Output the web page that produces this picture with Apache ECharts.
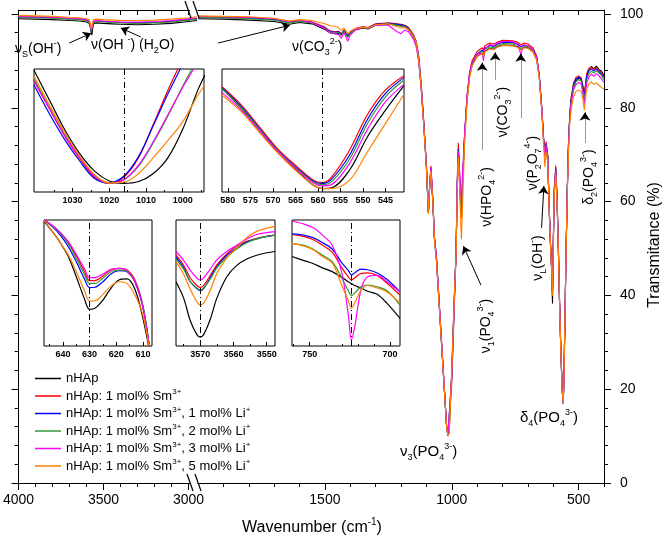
<!DOCTYPE html>
<html>
<head>
<meta charset="utf-8">
<script src="https://cdn.jsdelivr.net/npm/echarts@6/dist/echarts.min.js"></script>
<style>
    html, body { margin: 0; padding: 0; background: #fff; }
    #chart { width: 669px; height: 549px; }
</style>
</head>
<body>
<div id="chart"></div>
<script>
// series names / colours (legend order)
const names = [
    'nHAp',
    'nHAp: 1 mol% Sm3+',
    'nHAp: 1 mol% Sm3+, 1 mol% Li+',
    'nHAp: 1 mol% Sm3+, 2 mol% Li+',
    'nHAp: 1 mol% Sm3+, 3 mol% Li+',
    'nHAp: 1 mol% Sm3+, 5 mol% Li+'
];
const colors = ['#000000', '#ff0000', '#0000ff', '#339933', '#ff00ff', '#ff8000'];

// tick values
const tickMajorLeft = [4000, 3500, 3000];
const tickMinorLeft = [3900, 3800, 3700, 3600, 3400, 3300, 3200, 3100];
const tickTopLeft = [4000, 3900, 3800, 3700, 3600, 3500, 3400, 3300, 3200, 3100, 3000];
const tickMajorRight = [1500, 1000, 500];
const tickMinorRight = [1900, 1800, 1700, 1600, 1400, 1300, 1200, 1100, 900, 800, 700, 600, 400];
const tickTopRight = [1900, 1800, 1700, 1600, 1500, 1400, 1300, 1200, 1100, 1000, 900, 800, 700, 600, 500, 400];
const tickMajorY = [0, 20, 40, 60, 80, 100];
const tickMinorY = [4, 8, 12, 16, 24, 28, 32, 36, 44, 48, 52, 56, 64, 68, 72, 76, 84, 88, 92, 96];

// main spectrum, 4000-2950 cm-1
const wnLeft = [4000, 3900, 3800, 3700, 3640, 3600, 3585, 3578, 3572, 3569, 3566, 3560, 3540, 3500, 3450, 3400, 3300, 3200, 3100, 3000, 2950];
const leftHAp = [99.0, 98.9, 98.8, 98.6, 98.5, 98.3, 98.0, 97.2, 96.0, 95.5, 96.3, 97.9, 98.1, 98.0, 97.9, 97.8, 97.7, 97.8, 98.0, 98.4, 98.6];
const leftSm = [99.4, 99.3, 99.2, 99.0, 98.9, 98.7, 98.4, 97.6, 96.3, 95.9, 96.7, 98.3, 98.5, 98.4, 98.3, 98.2, 98.1, 98.2, 98.4, 98.8, 99.0];
const leftLi1 = [99.4, 99.3, 99.2, 99.0, 98.9, 98.7, 98.4, 97.6, 96.4, 96.0, 96.8, 98.3, 98.5, 98.4, 98.3, 98.2, 98.1, 98.2, 98.4, 98.8, 99.0];
const leftLi2 = [99.3, 99.2, 99.1, 98.9, 98.8, 98.6, 98.3, 97.5, 96.3, 95.9, 96.7, 98.2, 98.4, 98.3, 98.2, 98.1, 98.0, 98.1, 98.3, 98.7, 98.9];
const leftLi3 = [99.5, 99.4, 99.3, 99.1, 99.0, 98.8, 98.5, 97.8, 96.6, 96.2, 97.0, 98.5, 98.6, 98.5, 98.4, 98.3, 98.3, 98.4, 98.6, 99.0, 99.2];
const leftLi5 = [99.7, 99.6, 99.5, 99.3, 99.2, 99.0, 98.8, 98.1, 96.9, 96.5, 97.3, 98.8, 98.9, 98.8, 98.7, 98.6, 98.6, 98.7, 98.9, 99.2, 99.4];

// main spectrum, 2000-400 cm-1
const wnRight = [
    2000, 1900, 1800, 1700, 1640, 1600, 1550, 1500, 1480, 1460,
    1445, 1435, 1425, 1418, 1410, 1400, 1380, 1350, 1330, 1300,
    1250, 1215, 1200, 1185, 1170, 1150, 1140, 1130, 1120, 1110,
    1100, 1092, 1087, 1082, 1075, 1068, 1060, 1040, 1030, 1020,
    1015, 1010, 1000, 990, 983, 978, 974, 970, 965, 962,
    958, 950, 940, 930, 920, 900, 880, 875, 870, 850,
    835, 820, 800, 760, 740, 728, 715, 700, 680, 665,
    655, 645, 638, 633, 628, 622, 615, 610, 606, 603,
    600, 596, 590, 585, 580, 575, 570, 565, 561, 558,
    555, 550, 545, 540, 535, 530, 520, 510, 500, 490,
    482, 478, 474, 468, 460, 450, 440, 430, 420, 410, 400
];
const rightHAp = [
    99.0, 98.9, 98.7, 98.4, 97.8, 98.2, 97.9, 96.7, 96.0, 95.8,
    95.9, 95.5, 96.3, 95.9, 95.2, 95.8, 96.6, 97.0, 96.8, 97.6,
    97.8, 97.6, 97.5, 97.3, 96.7, 95.0, 93.6, 90.0, 83.8, 76.0,
    67.4, 57.5, 63.0, 66.5, 60.3, 51.8, 47.2, 29.4, 20.5, 11.8,
    10.2, 10.8, 24.0, 39.8, 49.0, 63.0, 70.0, 66.0, 58.9, 56.8,
    63.2, 73.1, 81.7, 86.7, 89.1, 91.0, 91.6, 91.0, 92.0, 92.7,
    92.5, 93.0, 93.4, 93.3, 93.0, 92.4, 92.9, 92.8, 92.0, 90.3,
    86.5, 79.5, 73.1, 70.3, 72.0, 69.6, 56.8, 49.5, 45.0, 38.3,
    50.0, 62.0, 66.0, 60.0, 50.0, 38.0, 28.0, 20.0, 17.0, 22.0,
    32.0, 48.0, 62.0, 72.0, 78.0, 81.3, 84.5, 85.8, 86.3, 86.1,
    84.0, 82.4, 84.0, 86.8, 88.2, 88.8, 88.3, 88.9, 88.2, 87.8, 87.0
];
const rightSm = [
    99.4, 99.3, 99.2, 98.9, 98.3, 98.6, 98.3, 97.2, 96.4, 96.2,
    96.3, 95.8, 96.6, 96.2, 95.5, 96.1, 96.9, 97.3, 97.1, 97.9,
    98.1, 97.9, 97.8, 97.6, 97.1, 95.5, 94.2, 91.0, 85.0, 77.0,
    68.0, 57.8, 63.8, 67.6, 61.0, 52.5, 48.0, 30.0, 21.0, 12.0,
    10.0, 9.8, 21.0, 37.5, 49.5, 65.5, 72.5, 67.5, 60.0, 57.5,
    63.0, 73.5, 82.5, 87.5, 90.0, 92.0, 92.8, 92.3, 93.2, 93.8,
    93.6, 94.0, 94.4, 94.3, 94.0, 93.4, 93.8, 93.6, 92.8, 91.0,
    87.0, 80.0, 73.5, 71.0, 72.8, 70.0, 57.5, 50.0, 46.0, 41.0,
    51.0, 63.0, 67.7, 61.0, 51.0, 38.5, 28.5, 20.5, 17.0, 21.0,
    31.0, 47.0, 61.5, 72.0, 78.5, 82.0, 85.3, 86.5, 86.8, 86.4,
    84.5, 83.0, 84.5, 87.3, 88.4, 88.6, 88.2, 88.6, 88.0, 87.5, 86.8
];
const rightLi1 = [
    99.3, 99.2, 99.1, 98.8, 98.2, 98.5, 98.2, 97.0, 96.3, 96.1,
    96.2, 95.6, 96.5, 96.0, 95.2, 96.0, 96.8, 97.2, 97.0, 97.8,
    98.0, 97.8, 97.7, 97.5, 96.9, 95.3, 94.0, 90.6, 84.5, 76.5,
    67.8, 57.6, 63.5, 67.2, 60.6, 52.2, 47.8, 29.8, 20.8, 11.9,
    10.1, 10.2, 22.5, 38.5, 49.2, 64.5, 71.2, 67.0, 59.6, 57.0,
    63.5, 73.3, 82.0, 87.0, 89.6, 91.5, 92.3, 91.8, 92.7, 93.3,
    93.1, 93.6, 94.0, 93.9, 93.6, 93.0, 93.4, 93.2, 92.4, 90.7,
    86.8, 79.8, 73.3, 70.0, 72.2, 69.8, 57.2, 49.8, 45.5, 40.5,
    50.5, 62.5, 67.0, 60.5, 50.5, 38.2, 28.2, 20.2, 17.0, 21.5,
    31.5, 47.5, 61.8, 72.0, 78.2, 81.6, 85.0, 86.2, 86.5, 86.2,
    84.0, 82.5, 84.0, 86.8, 87.8, 88.3, 87.8, 88.3, 87.7, 87.2, 86.5
];
const rightLi2 = [
    99.3, 99.2, 99.0, 98.7, 98.1, 98.4, 98.1, 96.9, 96.2, 96.0,
    96.0, 95.4, 96.4, 95.8, 95.0, 95.9, 96.7, 97.1, 96.9, 97.7,
    97.9, 97.6, 97.4, 97.3, 96.8, 95.2, 93.9, 90.4, 84.2, 76.3,
    67.6, 57.6, 63.4, 67.0, 60.5, 52.1, 47.6, 29.7, 20.7, 11.9,
    10.1, 10.3, 23.0, 39.0, 49.0, 64.0, 70.8, 66.8, 59.4, 56.5,
    63.3, 73.2, 81.9, 86.9, 89.4, 91.3, 92.0, 91.5, 92.4, 93.0,
    92.8, 93.3, 93.7, 93.6, 93.3, 92.6, 93.1, 93.0, 92.2, 90.5,
    86.6, 79.6, 73.2, 69.8, 72.1, 69.7, 57.0, 49.7, 45.3, 40.0,
    50.3, 62.3, 66.8, 60.3, 50.3, 38.1, 28.1, 20.1, 17.0, 21.7,
    31.7, 47.7, 61.8, 71.8, 77.9, 81.0, 84.5, 85.6, 86.0, 85.7,
    83.3, 81.5, 83.3, 86.0, 87.2, 87.8, 87.4, 87.9, 87.4, 86.9, 86.0
];
const rightLi3 = [
    99.5, 99.4, 99.3, 99.0, 98.4, 98.7, 98.2, 96.9, 96.0, 95.8,
    95.6, 94.8, 96.0, 95.2, 94.2, 95.5, 96.6, 97.2, 97.0, 97.6,
    97.6, 96.2, 95.8, 96.6, 96.2, 94.5, 93.0, 89.8, 84.0, 76.2,
    67.6, 57.8, 63.5, 67.2, 60.8, 52.3, 47.9, 29.9, 20.9, 12.0,
    10.2, 10.4, 22.8, 38.6, 49.2, 64.5, 70.5, 67.5, 62.0, 60.0,
    65.0, 74.0, 82.3, 87.2, 89.6, 91.5, 91.6, 90.0, 92.5, 93.5,
    93.3, 93.8, 94.2, 94.1, 93.6, 91.4, 93.4, 93.2, 92.4, 90.6,
    86.6, 79.6, 73.1, 69.6, 71.8, 69.4, 57.0, 49.7, 45.4, 40.5,
    50.4, 62.3, 66.5, 60.2, 50.2, 38.1, 28.1, 20.1, 17.0, 21.6,
    31.6, 47.5, 61.5, 71.5, 77.5, 80.6, 83.8, 85.0, 85.4, 85.1,
    82.8, 80.8, 82.5, 85.3, 86.5, 87.2, 86.7, 87.3, 86.8, 86.2, 85.4
];
const rightLi5 = [
    99.6, 99.5, 99.4, 99.1, 98.5, 98.8, 98.6, 97.9, 97.5, 97.4,
    97.0, 96.5, 97.0, 96.5, 95.8, 96.3, 96.9, 97.2, 97.0, 97.7,
    97.9, 97.3, 97.0, 97.1, 96.6, 95.2, 93.8, 90.3, 84.0, 76.0,
    67.2, 57.4, 63.0, 66.5, 60.2, 51.8, 47.1, 29.4, 20.5, 11.7,
    10.1, 10.6, 23.5, 39.3, 48.8, 62.5, 69.5, 65.0, 56.0, 52.0,
    58.0, 71.5, 81.0, 86.3, 88.9, 90.9, 91.6, 90.9, 91.9, 92.6,
    92.4, 92.9, 93.3, 93.2, 92.9, 92.3, 92.8, 92.7, 91.9, 90.1,
    86.2, 79.0, 72.0, 67.4, 70.5, 68.5, 56.5, 49.4, 45.0, 40.0,
    50.0, 61.8, 65.8, 59.8, 49.8, 37.8, 27.8, 19.8, 17.0, 21.8,
    31.8, 47.5, 61.0, 70.5, 76.5, 79.5, 82.5, 83.5, 83.8, 83.5,
    81.5, 79.5, 81.5, 84.0, 85.0, 85.5, 85.0, 85.3, 84.8, 84.3, 84.0
];

// inset 1: 1040-994 cm-1 (relative units)
const in1Wn = [1040.5, 1036, 1032, 1028, 1024, 1020, 1016, 1012, 1008, 1004, 1000, 996, 994];
const in1HAp = [99, 73, 50, 31, 17, 9, 7, 8.5, 15, 28, 51, 82, 95];
const in1Sm = [91, 66, 45, 27, 12, 7, 12, 28, 55, 83, 108, 130, 140];
const in1Li1 = [87, 62, 42, 25, 11, 7.5, 13, 29, 54, 80, 104, 128, 138];
const in1Li2 = [92, 67, 46, 28, 13, 7, 10, 21, 40, 62, 86, 108, 118];
const in1Li3 = [90, 66, 45, 28, 13, 7.5, 10, 22, 41, 63, 85, 105, 115];
const in1Li5 = [94, 69, 48, 29, 14, 7.5, 8, 15, 28, 42, 57, 78, 87];

// inset 2: 581-541 cm-1
const in2Wn = [581.3, 577, 573, 569, 565, 561, 559, 557, 553, 549, 545, 540.9];
const in2HAp = [84.2, 68, 50.3, 32.6, 18.5, 5.5, 2.8, 3.3, 17.7, 44.9, 66.6, 86.5];
const in2Sm = [85.6, 70.7, 53, 35.3, 21.7, 9.5, 7.6, 12, 34, 63, 83, 94.6];
const in2Li1 = [84.8, 69.3, 51.7, 34, 20.4, 8.7, 6.8, 10.3, 29.9, 59.2, 80.2, 93];
const in2Li2 = [84.2, 68.5, 51.1, 33.7, 19.9, 8.2, 6, 8.2, 26.6, 55.7, 77.4, 91];
const in2Li3 = [81, 66.6, 50, 33.2, 19.1, 7.4, 5, 6, 23.1, 51, 73.4, 87.5];
const in2Li5 = [78.8, 65.2, 48.4, 32.1, 17.7, 5.5, 2.8, 2.8, 9.6, 32.7, 55.8, 79.5];

// inset 3: 647-607 cm-1
const in3Wn = [647, 644, 641, 638, 635, 632, 630, 628, 625, 622, 619, 616, 613, 610, 607];
const in3HAp = [98.7, 90.9, 82, 71, 55, 37.8, 29.1, 29.9, 36.5, 45.8, 52.4, 53.2, 45, 22, -10];
const in3Sm = [100, 95.5, 89.9, 82, 71.4, 59.5, 51.9, 51.9, 55.6, 60.3, 61.6, 60.3, 52.4, 31.8, -10];
const in3Li1 = [100, 94.7, 88, 78.8, 66.9, 53.6, 46.3, 46.6, 51, 57.1, 59.8, 59, 51, 31.3, -10];
const in3Li2 = [100, 95.2, 89.4, 81, 69.6, 57.1, 49.7, 49.7, 53.7, 59, 60.3, 59, 51, 31.3, -10];
const in3Li3 = [100, 95.8, 90.2, 82.8, 72.8, 61.6, 54.3, 54.3, 57.1, 60.8, 61.6, 59.8, 51, 30, -10];
const in3Li5 = [99.5, 90.9, 82, 72.3, 59, 44.4, 35.7, 35.9, 41, 47.6, 51, 49.7, 40.5, 24.5, -10];

// inset 4: 3577-3547 cm-1
const in4Wn = [3577.3, 3575, 3573, 3571, 3570, 3569, 3567, 3565, 3562, 3559, 3556, 3553, 3550, 3547.5];
const in4HAp = [51, 38, 20, 9, 7, 9, 21, 38, 55, 64, 69, 72, 74, 75];
const in4Sm = [72.3, 64, 54, 48, 46.5, 48, 56, 64.3, 73, 79.5, 83, 85.5, 87, 88];
const in4Li1 = [70.5, 62, 51, 45.5, 43.9, 45.5, 54, 63, 72, 78, 82.5, 85, 87, 88];
const in4Li2 = [69, 61, 51, 46, 44.4, 46, 53, 62, 70.5, 77, 82, 85, 87, 88];
const in4Li3 = [75, 68, 60, 54, 52.4, 54, 61, 68.3, 75, 80, 85, 88.5, 90, 90.7];
const in4Li5 = [67, 57, 45, 35, 32.5, 34, 44, 57.7, 70, 78, 86, 91, 93.5, 95];

// inset 5: 761-694 cm-1
const in5Wn = [761, 754, 748, 742, 736, 730, 726, 724, 722, 718, 714, 708, 702, 693.8];
const in5HAp = [71, 68, 65.5, 62, 59, 54.5, 51, 49.5, 48, 46, 43.5, 41, 34, 22];
const in5Sm = [88.5, 87, 84.5, 80, 74.5, 62, 55, 52.4, 54, 57.7, 58, 56, 50, 40.5];
const in5Li1 = [89, 88, 86, 82, 77, 66, 60, 56.5, 58, 61, 60.5, 58, 53, 43];
const in5Li2 = [81.5, 80, 77, 72, 67, 54, 44, 40, 42, 47, 48.4, 47, 44, 32.5];
const in5Li3 = [99, 97, 94, 88, 80, 58, 25, 5, 15, 45, 55, 56, 51, 43];
const in5Li5 = [81.5, 79.5, 76.5, 71, 66, 48, 36, 30, 34, 44.4, 48, 46, 43, 34];

const FONT = '"Liberation Sans", Arial, sans-serif';
const plain = v => String(v);

// 轴构造
function xAxisOf(grid, min, max, ticks, len, inside, pos, showLine, labels, fontSize, bold) {
    return {
        gridIndex: grid, type: 'value', min: min, max: max, inverse: true, position: pos,
        splitLine: { show: false },
        axisLine: { show: showLine, onZero: false, lineStyle: { color: '#000', width: 1 } },
        axisTick: { show: true, customValues: ticks, length: len, inside: inside, lineStyle: { color: '#000', width: 1 } },
        axisLabel: labels ? {
            show: true, customValues: labels, formatter: plain, color: '#000', fontSize: fontSize, fontFamily: FONT,
            fontWeight: bold ? 'bold' : 'normal', margin: bold ? 4 : 10
        } : { show: false }
    };
}
function yAxisOf(grid, ticks, len, pos, showLine, labels) {
    return {
        gridIndex: grid, type: 'value', min: 0, max: 100.85, position: pos,
        splitLine: { show: false },
        axisLine: { show: showLine, onZero: false, lineStyle: { color: '#000', width: 1 } },
        axisTick: { show: true, customValues: ticks, length: len, inside: false, lineStyle: { color: '#000', width: 1 } },
        axisLabel: labels ? { show: true, customValues: labels, formatter: plain, color: '#000', fontSize: 14, fontFamily: FONT, margin: 16 } : { show: false }
    };
}

const insets = [
    { left: 34, top: 69, width: 170, height: 123, min: 994.2, max: 1040.5, labels: [1030, 1020, 1010, 1000], minor: [1035, 1025, 1015, 1005, 995], mark: 1016,
      wn: in1Wn, sets: [in1HAp, in1Sm, in1Li1, in1Li2, in1Li3, in1Li5] },
    { left: 222, top: 69, width: 182, height: 123, min: 540.9, max: 581.3, labels: [580, 575, 570, 565, 560, 555, 550, 545], minor: null, mark: 559,
      wn: in2Wn, sets: [in2HAp, in2Sm, in2Li1, in2Li2, in2Li3, in2Li5] },
    { left: 44, top: 220, width: 108, height: 126, min: 606.6, max: 647.1, labels: [640, 630, 620, 610], minor: [645, 635, 625, 615], mark: 630,
      wn: in3Wn, sets: [in3HAp, in3Sm, in3Li1, in3Li2, in3Li3, in3Li5] },
    { left: 176, top: 220, width: 99, height: 126, min: 3547.5, max: 3577.3, labels: [3570, 3560, 3550], minor: [3575, 3565, 3555], mark: 3570,
      wn: in4Wn, sets: [in4HAp, in4Sm, in4Li1, in4Li2, in4Li3, in4Li5] },
    { left: 292, top: 220, width: 108, height: 126, min: 693.8, max: 761, labels: [750, 700], minor: [760, 740, 730, 720, 710], mark: 724,
      wn: in5Wn, sets: [in5HAp, in5Sm, in5Li1, in5Li2, in5Li3, in5Li5] }
];

const grid = [
    { left: 17, top: 10, width: 180, height: 473, show: false },
    { left: 198, top: 10, width: 406, height: 473, show: false }
];
const xAxis = [
    xAxisOf(0, 2950, 4000, tickMajorLeft, 7, false, 'bottom', true, tickMajorLeft, 14, false),
    xAxisOf(0, 2950, 4000, tickMinorLeft, 4, false, 'bottom', false, null),
    xAxisOf(0, 2950, 4000, tickTopLeft, 5, true, 'top', true, null),
    xAxisOf(1, 400, 2000, tickMajorRight, 7, false, 'bottom', true, tickMajorRight, 14, false),
    xAxisOf(1, 400, 2000, tickMinorRight, 4, false, 'bottom', false, null),
    xAxisOf(1, 400, 2000, tickTopRight, 5, true, 'top', true, null)
];
const yAxis = [
    yAxisOf(0, tickMajorY, 7, 'left', true, null),
    yAxisOf(0, tickMinorY, 4, 'left', false, null),
    yAxisOf(1, tickMajorY, 7, 'right', true, tickMajorY),
    yAxisOf(1, tickMinorY, 4, 'right', false, null)
];

// 标注箭头 (data coords): 起点, 终点, 颜色
const arrowsLeft = [
    [3702, 93.8, 3573, 95.9, '#000'],
    [3281, 95.1, 3398, 97.0, '#000']
];
const arrowsRight = [
    [1921, 93.8, 1638, 97.6, '#000'],
    [885, 42.2, 954, 50.5, '#000'],
    [646, 54.4, 637, 63.3, '#000'],
    [880, 71.0, 880, 89.6, '#999'],
    [829, 85.9, 829, 91.8, '#999'],
    [728, 77.8, 728, 91.5, '#999'],
    [475, 72.5, 475, 79.0, '#999']
];
function arrowMark(list) {
    const data = [];
    list.forEach(a => {
        data.push([{ coord: [a[0], a[1]], lineStyle: { color: a[4] } }, { coord: [a[2], a[3]] }]);
        if (a[4] !== '#000') {
            // 灰线配黑色箭头
            data.push([{ coord: [a[2], a[3] - 1.2], lineStyle: { color: '#000' } }, { coord: [a[2], a[3]] }]);
        }
    });
    return {
        silent: true, animation: false, symbol: ['none', 'arrow'], symbolSize: 8,
        label: { show: false },
        lineStyle: { type: 'solid', width: 1 },
        emphasis: { disabled: true },
        data: data
    };
}

const series = [];
function addPanel(xi, yi, wn, sets, width, smooth, markLine) {
    sets.forEach((vals, k) => {
        series.push({
            type: 'line', name: names[k], xAxisIndex: xi, yAxisIndex: yi,
            data: wn.map((w, i) => [w, vals[i]]),
            symbol: 'none', showSymbol: false, smooth: smooth, clip: true, silent: true, animation: false,
            lineStyle: { color: colors[k], width: width },
            itemStyle: { color: colors[k] },
            markLine: k === 0 && markLine ? markLine : undefined
        });
    });
}
addPanel(0, 0, wnLeft, [leftHAp, leftSm, leftLi1, leftLi2, leftLi3, leftLi5], 1.1, false, arrowMark(arrowsLeft));
addPanel(3, 2, wnRight, [rightHAp, rightSm, rightLi1, rightLi2, rightLi3, rightLi5], 1.1, false, arrowMark(arrowsRight));

insets.forEach(p => {
    const gi = grid.length;
    grid.push({ left: p.left, top: p.top, width: p.width, height: p.height, show: true,
        borderColor: '#000', borderWidth: 1, backgroundColor: '#fff' });
    const xi = xAxis.length;
    xAxis.push(xAxisOf(gi, p.min, p.max, p.labels, 4, true, 'bottom', false, p.labels, 9, true));
    const minorAx = xAxisOf(gi, p.min, p.max, p.minor || [p.min], 2, true, 'bottom', false, null);
    if (!p.minor) minorAx.axisTick.show = false;
    xAxis.push(minorAx);
    const yi = yAxis.length;
    yAxis.push({ gridIndex: gi, type: 'value', min: 0, max: 100, show: false });
    addPanel(xi, yi, p.wn, p.sets, 1.2, 0.35, {
        silent: true, animation: false, symbol: 'none', label: { show: false },
        emphasis: { disabled: true },
        lineStyle: { color: '#000', width: 1, type: [6, 3, 1, 3] },
        data: [{ xAxis: p.mark }]
    });
});

const rich = {
    t: { fontSize: 14, fontFamily: FONT, color: '#000', lineHeight: 20 },
    b: { fontSize: 15, fontFamily: FONT, color: '#000', lineHeight: 20 },
    sb: { fontSize: 9, fontFamily: FONT, color: '#000', lineHeight: 10, verticalAlign: 'bottom' },
    sp: { fontSize: 9, fontFamily: FONT, color: '#000', lineHeight: 10, verticalAlign: 'top' }
};
function label(text, x, y, rot, align) {
    return {
        type: 'text', x: x, y: y, rotation: rot ? Math.PI / 2 : 0, silent: true, z: 50,
        style: { text: text, rich: rich, align: align || 'center', verticalAlign: 'middle' }
    };
}
const graphic = [
    // 断轴
    { type: 'rect', shape: { x: 191, y: 480, width: 6, height: 6 }, style: { fill: '#fff' }, z: 40, silent: true },
    { type: 'rect', shape: { x: 190, y: 7, width: 6, height: 6 }, style: { fill: '#fff' }, z: 40, silent: true },
    { type: 'line', shape: { x1: 187, y1: 474, x2: 193, y2: 491 }, style: { stroke: '#000', lineWidth: 1.2 }, z: 41, silent: true },
    { type: 'line', shape: { x1: 195, y1: 474, x2: 201, y2: 491 }, style: { stroke: '#000', lineWidth: 1.2 }, z: 41, silent: true },
    { type: 'line', shape: { x1: 185, y1: 1, x2: 191, y2: 18 }, style: { stroke: '#000', lineWidth: 1.2 }, z: 41, silent: true },
    { type: 'line', shape: { x1: 193, y1: 1, x2: 199, y2: 18 }, style: { stroke: '#000', lineWidth: 1.2 }, z: 41, silent: true },
    // 峰标注
    label('{t|ν}{sb|S}{t|(OH}{sp|-}{t|)}', 15, 49, false, 'left'),
    label('{t|ν(OH }{sp|-}{t|) (H}{sb|2}{t|O)}', 91, 45, false, 'left'),
    label('{t|ν(CO}{sb|3}{sp|2-}{t|)}', 292, 47, false, 'left'),
    label('{b|ν}{sb|3}{b|(PO}{sb|4}{sp|3-}{b|)}', 400, 452, false, 'left'),
    label('{b|δ}{sb|4}{b|(PO}{sb|4}{sp|3-}{b|)}', 520, 418, false, 'left'),
    label('{t|ν}{sb|1}{t|(PO}{sb|4}{sp|3-}{t|)}', 486, 326, true),
    label('{t|ν}{sb|L}{t|(OH}{sp|-}{t|)}', 538, 258, true),
    label('{t|ν(HPO}{sb|4}{sp|2-}{t|)}', 487, 197, true),
    label('{t|ν(CO}{sb|3}{sp|2-}{t|)}', 503, 112, true),
    label('{t|ν(P}{sb|2}{t|O}{sb|7}{sp|4-}{t|)}', 533, 163, true),
    label('{t|δ}{sb|2}{t|(PO}{sb|4}{sp|3-}{t|)}', 589, 177, true),
    // 轴标题
    {
        type: 'text', x: 312, y: 528, silent: true,
        style: {
            text: '{a|Wavenumber (cm}{s|-1}{a|)}', align: 'center', verticalAlign: 'middle',
            rich: { a: { fontSize: 16, fontFamily: FONT, color: '#000', lineHeight: 22 },
                    s: { fontSize: 10, fontFamily: FONT, color: '#000', lineHeight: 10, verticalAlign: 'top' } }
        }
    },
    {
        type: 'text', x: 655, y: 245, rotation: Math.PI / 2, silent: true,
        style: { text: 'Transmitance (%)', align: 'center', verticalAlign: 'middle', fontSize: 16, fontFamily: FONT, fill: '#000' }
    }
];

const legendText = {
    'nHAp': '{t|nHAp}',
    'nHAp: 1 mol% Sm3+': '{t|nHAp: 1 mol% Sm}{sp|3+}',
    'nHAp: 1 mol% Sm3+, 1 mol% Li+': '{t|nHAp: 1 mol% Sm}{sp|3+}{t|, 1 mol% Li}{sp|+}',
    'nHAp: 1 mol% Sm3+, 2 mol% Li+': '{t|nHAp: 1 mol% Sm}{sp|3+}{t|, 2 mol% Li}{sp|+}',
    'nHAp: 1 mol% Sm3+, 3 mol% Li+': '{t|nHAp: 1 mol% Sm}{sp|3+}{t|, 3 mol% Li}{sp|+}',
    'nHAp: 1 mol% Sm3+, 5 mol% Li+': '{t|nHAp: 1 mol% Sm}{sp|3+}{t|, 5 mol% Li}{sp|+}'
};

const chart = echarts.init(document.getElementById('chart'), null, { renderer: 'canvas' });
chart.setOption({
    animation: false,
    backgroundColor: '#fff',
    grid: grid,
    xAxis: xAxis,
    yAxis: yAxis,
    legend: {
        data: names, orient: 'vertical', left: 30, top: 367, itemGap: 3,
        itemWidth: 26, itemHeight: 1.5, icon: 'rect', selectedMode: false,
        formatter: n => legendText[n],
        textStyle: {
            rich: {
                t: { fontSize: 13, fontFamily: FONT, color: '#000', lineHeight: 16 },
                sp: { fontSize: 8, fontFamily: FONT, color: '#000', lineHeight: 8, verticalAlign: 'top' }
            }
        }
    },
    graphic: graphic,
    series: series
});
</script>
</body>
</html>
